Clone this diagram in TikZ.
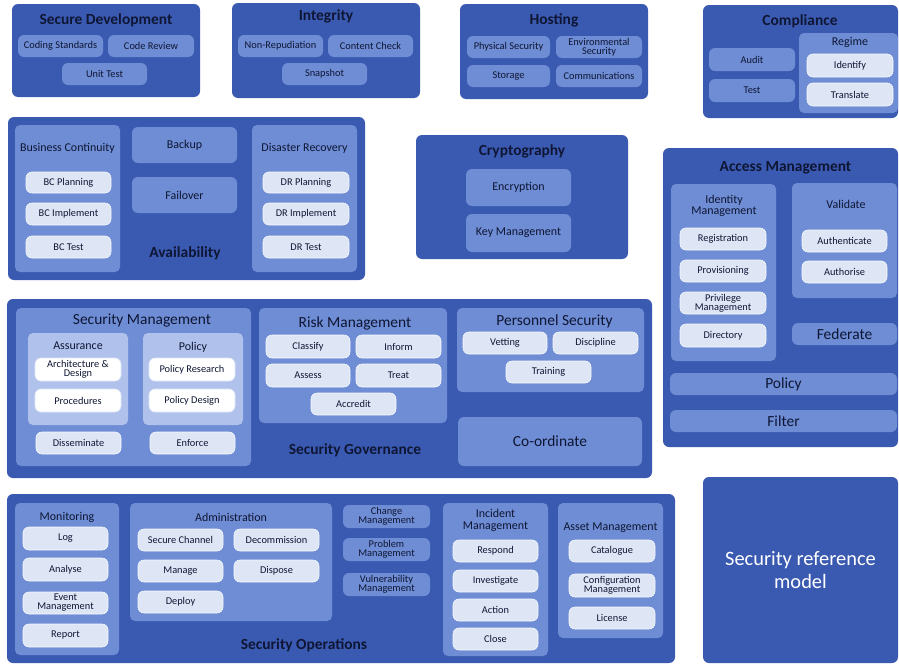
\documentclass[tikz,border=0pt]{standalone}
\usepackage{fontspec}
\setmainfont{Carlito}
\usepackage{xcolor}
\usepackage{tikz}
\usetikzlibrary{shapes}

\definecolor{zonecol}{RGB}{58,90,178}
\definecolor{panelcol}{RGB}{110,141,212}
\definecolor{palecol}{RGB}{176,194,236}
\definecolor{litcol}{RGB}{222,230,246}
\definecolor{inkcol}{RGB}{15,22,52}

\newcommand{\itemsize}{\fontsize{10.4}{10}\selectfont}
\newcommand{\subsize}{\fontsize{12}{12.5}\selectfont}
\newcommand{\headsize}{\fontsize{15.5}{16}\selectfont}

\tikzset{
  zone/.style={fill=zonecol,rounded corners=6bp,inner sep=0pt},
  panel/.style={fill=panelcol,rounded corners=5bp,inner sep=0pt},
  palepanel/.style={fill=palecol,rounded corners=5bp,inner sep=0pt},
  midbox/.style={fill=panelcol,rounded corners=6bp,inner sep=1bp,
    minimum width=85bp,minimum height=22bp,text=inkcol,font=\itemsize,align=center},
  litbox/.style={midbox,fill=litcol,draw=white!70!litcol,line width=0.6bp},
  wbox/.style={midbox,fill=white,draw=litcol,line width=0.6bp},
  heading/.style={text=inkcol,font=\headsize\bfseries},
  paneltitle/.style={text=inkcol,font=\headsize},
  subtitle/.style={text=inkcol,font=\subsize,align=center},
}

\begin{document}
\begin{tikzpicture}
    \useasboundingbox (0bp,0bp) rectangle (899bp,-664bp);

    % secure development
    \node (secdev) at (106bp,-50.5bp)[zone,minimum width=188bp,minimum height=93bp] {};
    \node (secdevT) at (106bp,-20bp)[heading] {Secure Development};
    \node (coding) at (60.5bp,-46bp)[midbox] {Coding Standards};
    \node (review) at (151bp,-46bp)[midbox,minimum width=86bp] {Code Review};
    \node (unittest) at (104.5bp,-74bp)[midbox] {Unit Test};

    % integrity
    \node (integ) at (326bp,-50.5bp)[zone,minimum width=188bp,minimum height=95bp] {};
    \node (integT) at (326bp,-16bp)[heading] {Integrity};
    \node (nonrep) at (280.5bp,-46bp)[midbox] {Non-Repudiation};
    \node (content) at (370.5bp,-46bp)[midbox] {Content Check};
    \node (snap) at (324.5bp,-74bp)[midbox] {Snapshot};

    % hosting
    \node (hosting) at (554bp,-51.5bp)[zone,minimum width=188bp,minimum height=95bp] {};
    \node (hostingT) at (554bp,-20bp)[heading] {Hosting};
    \node (physical) at (508.5bp,-47bp)[midbox,minimum width=83bp] {Physical Security};
    \node (environ) at (599bp,-47bp)[midbox,minimum width=86bp] {Environmental\\[-1bp]Security};
    \node (storage) at (508.5bp,-76bp)[midbox,minimum width=83bp] {Storage};
    \node (comms) at (599bp,-76bp)[midbox,minimum width=86bp] {Communications};

    % compliance
    \node (compl) at (800.5bp,-61.5bp)[zone,minimum width=195bp,minimum height=113bp] {};
    \node (complT) at (800bp,-21bp)[heading] {Compliance};
    \node (audit) at (752bp,-59.5bp)[midbox,minimum width=86bp,minimum height=23bp] {Audit};
    \node (test) at (752bp,-90.5bp)[midbox,minimum width=86bp,minimum height=23bp] {Test};
    \node (regime) at (848.5bp,-73bp)[panel,minimum width=99bp,minimum height=80bp] {};
    \node (regimeT) at (850bp,-42bp)[subtitle] {Regime};
    \node (identify) at (850bp,-65.5bp)[litbox,minimum width=86bp,minimum height=23bp] {Identify};
    \node (translate) at (850bp,-94.5bp)[litbox,minimum width=86bp,minimum height=23bp] {Translate};

    % availability
    \node (avail) at (186.5bp,-198.5bp)[zone,minimum width=357bp,minimum height=163bp] {};
    \node (availT) at (185bp,-253bp)[heading] {Availability};
    \node (bc) at (67.5bp,-198.5bp)[panel,minimum width=105bp,minimum height=147bp] {};
    \node (bcT) at (67.5bp,-148bp)[subtitle] {Business Continuity};
    \node (bcplan) at (68.5bp,-182.5bp)[litbox,minimum height=21bp] {BC Planning};
    \node (bcimpl) at (68.5bp,-214bp)[litbox] {BC Implement};
    \node (bctest) at (68.5bp,-247bp)[litbox] {BC Test};
    \node (backup) at (184.5bp,-145bp)[midbox,minimum width=105bp,minimum height=36bp,font=\subsize] {Backup};
    \node (failover) at (184.5bp,-195bp)[midbox,minimum width=105bp,minimum height=36bp,font=\subsize] {Failover};
    \node (dr) at (304.5bp,-198.5bp)[panel,minimum width=105bp,minimum height=147bp] {};
    \node (drT) at (304.5bp,-148bp)[subtitle] {Disaster Recovery};
    \node (drplan) at (306bp,-182.5bp)[litbox,minimum width=86bp,minimum height=21bp] {DR Planning};
    \node (drimpl) at (306bp,-214bp)[litbox,minimum width=86bp] {DR Implement};
    \node (drtest) at (306bp,-247bp)[litbox,minimum width=86bp] {DR Test};

    % cryptography
    \node (crypto) at (522bp,-197bp)[zone,minimum width=212bp,minimum height=124bp] {};
    \node (cryptoT) at (522bp,-151bp)[heading] {Cryptography};
    \node (encrypt) at (518.5bp,-187.5bp)[midbox,minimum width=105bp,minimum height=37bp,font=\subsize] {Encryption};
    \node (keymgmt) at (518.5bp,-233bp)[midbox,minimum width=105bp,minimum height=38bp,font=\subsize] {Key Management};

    % access management
    \node (access) at (780.5bp,-297.5bp)[zone,minimum width=235bp,minimum height=299bp] {};
    \node (accessT) at (785.5bp,-168bp)[heading] {Access Management};
    \node (idm) at (723.5bp,-272.5bp)[panel,minimum width=105bp,minimum height=177bp] {};
    \node (idmT) at (724bp,-206bp)[subtitle] {Identity\\[-1bp]Management};
    \node (regist) at (723bp,-239bp)[litbox,minimum width=86bp] {Registration};
    \node (provis) at (723bp,-271bp)[litbox,minimum width=86bp] {Provisioning};
    \node (privil) at (723bp,-303bp)[litbox,minimum width=86bp] {Privilege\\[-1bp]Management};
    \node (direct) at (723bp,-335.5bp)[litbox,minimum width=86bp,minimum height=23bp] {Directory};
    \node (valid) at (844.5bp,-240.5bp)[panel,minimum width=105bp,minimum height=115bp] {};
    \node (validT) at (846bp,-204bp)[subtitle] {Validate};
    \node (authent) at (844.5bp,-241bp)[litbox] {Authenticate};
    \node (authoris) at (844.5bp,-272bp)[litbox] {Authorise};
    \node (federate) at (844.5bp,-334bp)[midbox,minimum width=105bp,font=\headsize] {Federate};
    \node (accpolicy) at (783.5bp,-384bp)[midbox,minimum width=227bp,font=\headsize] {Policy};
    \node (filter) at (783.5bp,-421bp)[midbox,minimum width=227bp,font=\headsize] {Filter};

    % security governance
    \node (govern) at (329.5bp,-388.5bp)[zone,minimum width=645bp,minimum height=179bp] {};
    \node (governT) at (355bp,-450bp)[heading] {Security Governance};
    \node (secmgmt) at (133.5bp,-387bp)[panel,minimum width=235bp,minimum height=158bp] {};
    \node (secmgmtT) at (142bp,-321bp)[paneltitle] {Security Management};
    \node (assur) at (78bp,-379bp)[palepanel,minimum width=100bp,minimum height=92bp] {};
    \node (assurT) at (78bp,-346bp)[subtitle] {Assurance};
    \node (archdes) at (78bp,-369.5bp)[wbox,minimum width=86bp,minimum height=23bp] {Architecture \&\\[-1bp]Design};
    \node (proced) at (78bp,-400.5bp)[wbox,minimum width=86bp,minimum height=23bp] {Procedures};
    \node (polpanel) at (193bp,-379bp)[palepanel,minimum width=100bp,minimum height=92bp] {};
    \node (polpanelT) at (193bp,-347bp)[subtitle] {Policy};
    \node (polres) at (192bp,-369.5bp)[wbox,minimum width=86bp,minimum height=23bp] {Policy Research};
    \node (poldes) at (192bp,-400.5bp)[wbox,minimum width=86bp,minimum height=23bp] {Policy Design};
    \node (dissem) at (78.5bp,-443bp)[litbox] {Disseminate};
    \node (enforce) at (192.5bp,-443bp)[litbox] {Enforce};
    \node (risk) at (353bp,-365.5bp)[panel,minimum width=188bp,minimum height=115bp] {};
    \node (riskT) at (355bp,-323bp)[paneltitle] {Risk Management};
    \node (classify) at (308bp,-346.5bp)[litbox,minimum width=84bp,minimum height=23bp] {Classify};
    \node (inform) at (398.5bp,-346.5bp)[litbox,minimum height=23bp] {Inform};
    \node (assess) at (308bp,-375.5bp)[litbox,minimum width=84bp,minimum height=23bp] {Assess};
    \node (treat) at (398.5bp,-375.5bp)[litbox,minimum height=23bp] {Treat};
    \node (accred) at (353.5bp,-404bp)[litbox] {Accredit};
    \node (person) at (550.5bp,-350bp)[panel,minimum width=187bp,minimum height=84bp] {};
    \node (personT) at (554.5bp,-321bp)[paneltitle] {Personnel Security};
    \node (vetting) at (505bp,-343bp)[litbox,minimum width=84bp] {Vetting};
    \node (discip) at (595.5bp,-343bp)[litbox] {Discipline};
    \node (training) at (548.5bp,-372bp)[litbox] {Training};
    \node (coord) at (550bp,-441.5bp)[midbox,minimum width=184bp,minimum height=49bp,font=\headsize] {Co-ordinate};

    % security operations
    \node (oper) at (341bp,-578.5bp)[zone,minimum width=668bp,minimum height=169bp] {};
    \node (operT) at (304bp,-645bp)[heading] {Security Operations};
    \node (monit) at (67bp,-579bp)[panel,minimum width=104bp,minimum height=152bp] {};
    \node (monitT) at (67bp,-517bp)[subtitle] {Monitoring};
    \node (log) at (65.5bp,-538.5bp)[litbox,minimum height=23bp] {Log};
    \node (analyse) at (65.5bp,-569.5bp)[litbox,minimum height=23bp] {Analyse};
    \node (eventm) at (65.5bp,-603bp)[litbox] {Event\\[-1bp]Management};
    \node (report) at (65.5bp,-635.5bp)[litbox,minimum height=23bp] {Report};
    \node (admin) at (231bp,-562bp)[panel,minimum width=202bp,minimum height=118bp] {};
    \node (adminT) at (231bp,-517bp)[subtitle] {Administration};
    \node (secchan) at (180.5bp,-540bp)[litbox] {Secure Channel};
    \node (decomm) at (276.5bp,-540bp)[litbox] {Decommission};
    \node (manage) at (180.5bp,-571bp)[litbox] {Manage};
    \node (dispose) at (276.5bp,-571bp)[litbox] {Dispose};
    \node (deploy) at (180.5bp,-602bp)[litbox] {Deploy};
    \node (change) at (386.5bp,-516.5bp)[midbox,minimum width=87bp,minimum height=23bp] {Change\\[-1bp]Management};
    \node (problem) at (386.5bp,-549.5bp)[midbox,minimum width=87bp,minimum height=23bp] {Problem\\[-1bp]Management};
    \node (vulner) at (386.5bp,-584.5bp)[midbox,minimum width=87bp,minimum height=23bp] {Vulnerability\\[-1bp]Management};
    \node (incid) at (495.5bp,-579.5bp)[panel,minimum width=105bp,minimum height=153bp] {};
    \node (incidT) at (495.5bp,-520.5bp)[subtitle] {Incident\\[-1bp]Management};
    \node (respond) at (495.5bp,-551bp)[litbox] {Respond};
    \node (investig) at (495.5bp,-581bp)[litbox] {Investigate};
    \node (action) at (495.5bp,-610bp)[litbox] {Action};
    \node (close) at (495.5bp,-639bp)[litbox] {Close};
    \node (asset) at (610.5bp,-570.5bp)[panel,minimum width=105bp,minimum height=135bp] {};
    \node (assetT) at (610.5bp,-528bp)[subtitle] {Asset Management};
    \node (catal) at (612bp,-551bp)[litbox,minimum width=86bp] {Catalogue};
    \node (config) at (612bp,-585.5bp)[litbox,minimum width=86bp,minimum height=23bp] {Configuration\\[-1bp]Management};
    \node (license) at (612bp,-618bp)[litbox,minimum width=86bp] {License};

    % reference model
    \node (refmodel) at (800.5bp,-570bp)[zone,minimum width=195bp,minimum height=186bp,
        text=white,font=\fontsize{20.5}{24}\selectfont,align=center] {Security reference\\model};
\end{tikzpicture}
\end{document}
